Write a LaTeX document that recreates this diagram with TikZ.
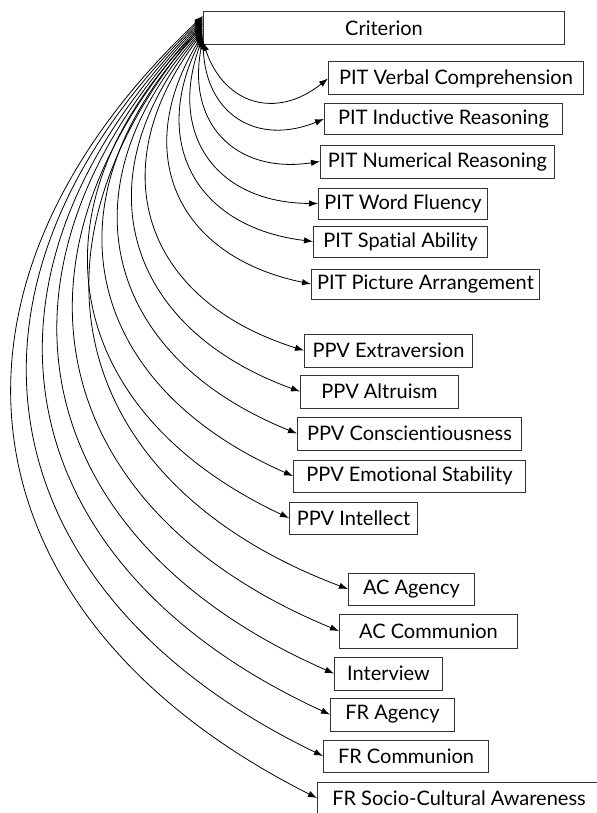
\documentclass[tikz,border=0pt]{standalone}
\usepackage{fontspec}
\setmainfont{Lato}[Ligatures=NoCommon]
\usetikzlibrary{positioning,arrows.meta}

\begin{document}
\begin{tikzpicture}[x=0.5pt,y=0.5pt,
varnode/.style={rectangle, draw=black!80, line width=0.5pt, anchor=west, inner sep=0pt, minimum height=16pt, font=\fontsize{10}{12}\selectfont},
corr/.style={{Latex[length=4.5pt,width=3.2pt]}-{Latex[length=4.5pt,width=3.2pt]}, line width=0.4pt, bend right=55, looseness=1.3},
]
\useasboundingbox (0,0) rectangle (597,-813);
\clip (0,0) rectangle (597,-813);
%Nodes
\node[varnode, minimum width=180.5pt, minimum height=16.5pt] (crit) at (203,-28.5) {Criterion};

\node[varnode, minimum width=127.5pt, minimum height=16.5pt] (pvc) at (328,-78.5) {PIT Verbal Comprehension};
\node[varnode, minimum width=119pt, minimum height=15pt]     (pir) at (324,-119)  {PIT Inductive Reasoning};
\node[varnode, minimum width=117pt, minimum height=16.5pt]   (pnr) at (320,-161.5) {PIT Numerical Reasoning};
\node[varnode, minimum width=84.5pt, minimum height=15.5pt]  (pwf) at (318,-203.5) {PIT Word Fluency};
\node[varnode, minimum width=87pt, minimum height=15.5pt]    (psa) at (313,-241.5) {PIT Spatial Ability};
\node[varnode, minimum width=114pt, minimum height=15pt]     (ppa) at (311,-284)  {PIT Picture Arrangement};

\node[varnode, minimum width=84pt, minimum height=16.5pt]    (pex) at (304,-350.5) {PPV Extraversion};
\node[varnode, minimum width=79pt, minimum height=16.5pt]    (pal) at (300,-391.5) {PPV Altruism};
\node[varnode, minimum width=112pt, minimum height=16.5pt]   (pco) at (297,-433.5) {PPV Conscientiousness};
\node[varnode, minimum width=116pt]                          (pes) at (293,-476)  {PPV Emotional Stability};
\node[varnode, minimum width=64pt]                           (pin) at (289,-518)  {PPV Intellect};

\node[varnode, minimum width=63pt]                           (aca) at (348,-589)  {AC Agency};
\node[varnode, minimum width=89pt, minimum height=17pt]      (acc) at (339,-631)  {AC Communion};
\node[varnode, minimum width=54pt, minimum height=16.5pt]    (int) at (334,-673.5) {Interview};
\node[varnode, minimum width=62pt, minimum height=16.5pt]    (fra) at (330,-714.5) {FR Agency};
\node[varnode, minimum width=82.5pt]                         (frc) at (323,-756)  {FR Communion};
\node[varnode, minimum width=141.5pt]                        (frs) at (317,-798)  {FR Socio-Cultural Awareness};

%Lines
\draw[corr] ([yshift=-6.75pt]crit.west) to (pvc.west);
\draw[corr] ([yshift=-5.94pt]crit.west) to (pir.west);
\draw[corr] ([yshift=-5.13pt]crit.west) to (pnr.west);
\draw[corr] ([yshift=-4.31pt]crit.west) to (pwf.west);
\draw[corr] ([yshift=-3.5pt]crit.west)  to (psa.west);
\draw[corr] ([yshift=-2.69pt]crit.west) to (ppa.west);
\draw[corr] ([yshift=-1.88pt]crit.west) to (pex.west);
\draw[corr] ([yshift=-1.06pt]crit.west) to (pal.west);
\draw[corr] ([yshift=-0.25pt]crit.west) to (pco.west);
\draw[corr] ([yshift=0.56pt]crit.west)  to (pes.west);
\draw[corr] ([yshift=1.38pt]crit.west)  to (pin.west);
\draw[corr] ([yshift=2.19pt]crit.west)  to (aca.west);
\draw[corr] ([yshift=3pt]crit.west)     to (acc.west);
\draw[corr] ([yshift=3.81pt]crit.west)  to (int.west);
\draw[corr] ([yshift=4.63pt]crit.west)  to (fra.west);
\draw[corr] ([yshift=5.44pt]crit.west)  to (frc.west);
\draw[corr] ([yshift=6.25pt]crit.west)  to (frs.west);

\end{tikzpicture}
\end{document}
